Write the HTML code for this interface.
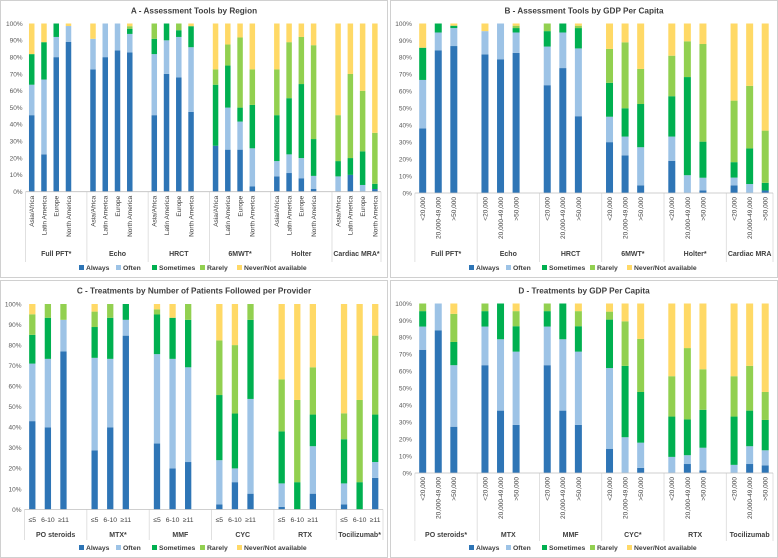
<!DOCTYPE html>
<html><head><meta charset="utf-8">
<style>
html,body{margin:0;padding:0;background:#fff;}
svg{display:block;font-family:"Liberation Sans",sans-serif;}
</style></head>
<body>
<svg id="chart" width="778" height="558" viewBox="0 0 778 558"></svg>
<script>
// ---------- Data ----------
const statusNames = ["Always","Often","Sometimes","Rarely","Never/Not available"];
const statusColors = ["#2e75b6","#9dc3e6","#00b050","#92d050","#ffd966"];
const yTicks = ["0%","10%","20%","30%","40%","50%","60%","70%","80%","90%","100%"];

const aGroups = ["Full PFT*","Echo","HRCT","6MWT*","Holter","Cardiac MRA*"];
const aCats = ["Asia/Africa","Latin America","Europe","North America"];
const aAlways = [45.5,22.2,80,89, 72.7,80,84,82.8, 45.5,70,68,47.5, 27.3,25,25,3.1, 9.1,11.1,8,1.6, 0,10,0,1.6];
const aOften = [18.1,44.5,12,9.5, 18.2,20,16,11, 36.3,20,24,38.4, 0,25,16.7,22.7, 9.1,11.1,12,7.8, 9.1,0,4,0];
const aSometimes = [18.2,22.2,8,0, 0,0,0,3.1, 9.1,10,4,12.5, 36.3,25,8.3,25.8, 27.3,33.4,44,21.9, 9.1,10,20,3.1];
const aRarely = [0,0,0,0, 0,0,0,1.5, 9.1,0,4,0, 9.1,12.5,41.7,21.1, 27.2,33.3,28,55.8, 27.3,50,36,30.3];
const aNever = [18.2,11.1,0,1.5, 9.1,0,0,1.6, 0,0,0,1.6, 27.3,12.5,8.3,27.3, 27.3,11.1,8,12.9, 54.5,30,40,65];

const bGroups = ["Full PFT*","Echo","HRCT","6MWT*","Holter*","Cardiac MRA"];
const bCats = ["<20,000","20,000-49,000",">50,000"];
const bAlways = [38.1,84.2,86.7, 81.8,78.9,82.7, 63.6,73.7,45.3, 30,22.2,4.5, 19,0,1.5, 4.5,0,1.5];
const bOften = [28.6,10.5,10.6, 13.7,21.1,12, 22.8,21,40, 15,11.1,22.5, 14.3,10.5,7.5, 4.6,5.3,0];
const bSometimes = [19,5.3,1.4, 0,0,2.6, 9.1,5.3,12, 20,16.7,25.5, 23.8,57.9,21.3, 9.1,21,4.5];
const bRarely = [0,0,0, 0,0,1.4, 4.5,0,1.4, 20,38.9,20.7, 23.9,21.1,57.6, 36.3,36.9,30.8];
const bNever = [14.3,0,1.3, 4.5,0,1.3, 0,0,1.3, 15,11.1,26.8, 19,10.5,12.1, 45.5,36.8,63.2];

const cGroups = ["PO steroids","MTX*","MMF","CYC","RTX","Tocilizumab*"];
const cCats = ["≤5","6-10","≥11"];
const cAlways = [43,40,76.9, 28.8,40,84.6, 32.1,20,23.1, 2.5,13.3,7.7, 1.3,0,7.7, 2.5,0,15.4];
const cOften = [28,33.3,15.4, 45,33.3,7.7, 43.5,53.3,46.1, 21.5,6.7,46.1, 11.4,0,23.1, 10.2,0,7.7];
const cSometimes = [14,20,0, 15,20,7.7, 19.3,20,23.1, 31.7,26.7,38.5, 25.3,13.3,15.4, 21.5,13.3,23.1];
const cRarely = [10,6.7,7.7, 7.5,6.7,0, 2.5,0,7.7, 26.6,33.3,7.7, 25.3,40,23, 12.6,40,38.4];
const cNever = [5,0,0, 3.7,0,0, 2.6,6.7,0, 17.7,20,0, 36.7,46.7,30.8, 53.2,46.7,15.4];

const dGroups = ["PO steroids*","MTX","MMF","CYC*","RTX","Tocilizumab"];
const dCats = ["<20,000","20,000-49,000",">50,000"];
const dAlways = [72.7,84.2,27.3, 63.6,36.8,28.4, 63.6,36.8,28.4, 14.3,0,3, 0,5.3,1.5, 0,5.3,4.5];
const dOften = [13.7,15.8,36.3, 22.8,42.1,43.2, 22.8,42.1,43.2, 47.6,21.1,14.9, 9.5,5.2,13.4, 4.8,10.5,8.9];
const dSometimes = [9.1,0,13.7, 9.1,21.1,15, 9.1,21.1,15, 28.6,42.1,29.9, 23.8,21.1,22.4, 28.5,21,17.9];
const dRarely = [4.5,0,16.6, 4.5,0,8.9, 4.5,0,8.9, 4.7,26.3,31.3, 23.8,42.1,23.9, 23.8,26.4,16.5];
const dNever = [0,0,6.1, 0,0,4.5, 0,0,4.5, 4.8,10.5,20.9, 42.9,26.3,38.8, 42.9,36.8,52.2];

// ---------- Drawing ----------
const NS = "http://www.w3.org/2000/svg";
const svg = document.getElementById("chart");
function mk(tag, attrs, parent, text) {
  const e = document.createElementNS(NS, tag);
  for (const k in attrs) e.setAttribute(k, attrs[k]);
  if (text !== undefined) e.textContent = text;
  (parent || svg).appendChild(e);
  return e;
}

function drawPanel(cfg) {
  const g = mk("g", {});
  
  
  const box = mk("rect", {x: cfg.x0 + 0.5, y: cfg.y0 + 0.5, width: 387, height: 277, fill: "#fff", stroke: "#d0d0d0", "stroke-width": 1}, g);
  
  
  const t = mk("text", {x: cfg.x0 + 194, y: cfg.y0 + 13.5, "text-anchor": "middle", "font-size": 8.2, "font-weight": "bold", fill: "#404040"}, g, cfg.title);
  
  

  const series = cfg.series;
  const nG = cfg.groups.length, nC = cfg.cats.length;
  const nSlots = nG * (nC + 1) - 1;
  const L = cfg.x0 + cfg.plotLeft, R = cfg.x0 + cfg.plotRight;
  const s = (R - L) / nSlots;
  const yScale = v => cfg.yBot - (v / 100) * (cfg.yBot - cfg.yTop);
  const xCenter = (gi, ci) => L + (gi * (nC + 1) + ci + 0.5) * s;

  yTicks.forEach((lab, i) => {
    const tk = mk("text", {x: L - 3, y: yScale(i * 10) + 2.3, "text-anchor": "end", "font-size": 6.5, fill: "#595959"}, g, lab);
    
    
  });

  for (let gi = 0; gi < nG; gi++) {
    for (let ci = 0; ci < nC; ci++) {
      const idx = gi * nC + ci;
      let cum = 0;
      const cx = xCenter(gi, ci);
      for (let si = 0; si < series.length; si++) {
        const v = series[si][idx];
        if (v > 0) {
          const y1 = yScale(cum), y2 = yScale(cum + v);
          const r = mk("rect", {x: cx - cfg.barW / 2, y: y2, width: cfg.barW, height: y1 - y2, fill: statusColors[si]}, g);
          
          
        }
        cum += v;
      }
      if (cfg.rotated) {
        const lx = cx + 2.4, ly = cfg.yBot + 4;
        const cl = mk("text", {x: lx, y: ly, "text-anchor": "end", "font-size": 6.5, fill: "#404040", transform: `rotate(-90 ${lx} ${ly})`}, g, cfg.cats[ci]);
        
        
      } else {
        const cl = mk("text", {x: cx, y: cfg.catY, "text-anchor": "middle", "font-size": 6.8, fill: "#404040"}, g, cfg.cats[ci]);
        
        
      }
    }
    const gStart = L + gi * (nC + 1) * s;
    const gEnd = gi === nG - 1 ? R : gStart + (nC + 1) * s;
    const gl = mk("text", {x: (gStart + gEnd) / 2, y: cfg.groupY, "text-anchor": "middle", "font-size": 7, "font-weight": "bold", fill: "#404040"}, g, cfg.groups[gi]);
    
    
  }
  for (let gi = 0; gi <= nG; gi++) {
    const x = gi === nG ? R : L + gi * (nC + 1) * s;
    const ln = mk("line", {x1: x, y1: cfg.yBot, x2: x, y2: cfg.sepBot, stroke: "#d9d9d9", "stroke-width": 0.8}, g);
    
    
  }
  const ax = mk("line", {x1: L, y1: cfg.yBot, x2: R, y2: cfg.yBot, stroke: "#bfbfbf", "stroke-width": 0.8}, g);
  
  

  const legX = [79, 116, 152, 200, 237];
  statusNames.forEach((nm, i) => {
    const lg = mk("g", {}, g);
    
    
    mk("rect", {x: cfg.x0 + legX[i], y: cfg.legY - 5, width: 5, height: 5, fill: statusColors[i]}, lg);
    mk("text", {x: cfg.x0 + legX[i] + 7, y: cfg.legY, "font-size": 6.8, "font-weight": "bold", fill: "#404040"}, lg, nm);
  });
}

drawPanel({name: "panel-a-by-region", title: "A - Assessment Tools by Region", x0: 0, y0: 0,
  plotLeft: 25.6, plotRight: 381, yTop: 23.5, yBot: 191.7, barW: 5.5, rotated: true,
  groupY: 256, sepBot: 262, legY: 270, groups: aGroups, cats: aCats,
  series: [aAlways, aOften, aSometimes, aRarely, aNever]});
drawPanel({name: "panel-b-by-gdp", title: "B - Assessment Tools by GDP Per Capita", x0: 390, y0: 0,
  plotLeft: 24.9, plotRight: 383, yTop: 23.5, yBot: 193, barW: 7, rotated: true,
  groupY: 256, sepBot: 262, legY: 270, groups: bGroups, cats: bCats,
  series: [bAlways, bOften, bSometimes, bRarely, bNever]});
drawPanel({name: "panel-c-by-patients", title: "C - Treatments by Number of Patients Followed per Provider", x0: 0, y0: 280,
  plotLeft: 24.5, plotRight: 383, yTop: 304, yBot: 509.5, barW: 6.3, rotated: false, catY: 522,
  groupY: 537, sepBot: 540, legY: 550, groups: cGroups, cats: cCats,
  series: [cAlways, cOften, cSometimes, cRarely, cNever]});
drawPanel({name: "panel-d-by-gdp", title: "D - Treatments by GDP Per Capita", x0: 390, y0: 280,
  plotLeft: 24.9, plotRight: 383, yTop: 303.5, yBot: 473, barW: 7, rotated: true,
  groupY: 537, sepBot: 541, legY: 550, groups: dGroups, cats: dCats,
  series: [dAlways, dOften, dSometimes, dRarely, dNever]});
</script>
</body></html>
